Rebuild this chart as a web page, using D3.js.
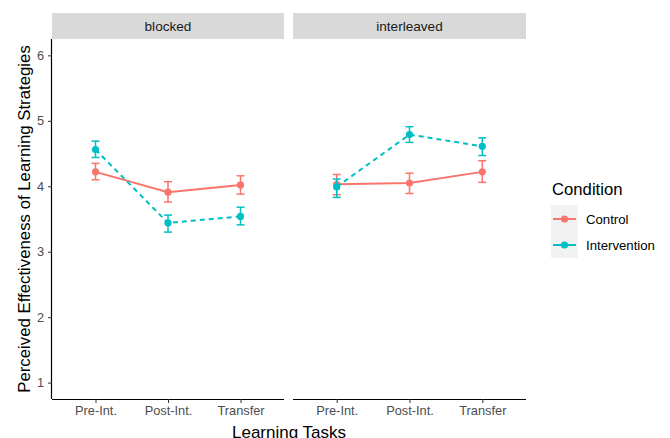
<!DOCTYPE html>
<html>
<head>
<meta charset="UTF-8">
<title>Perceived Effectiveness</title>
<script src="https://cdn.jsdelivr.net/npm/d3@7"></script>
<style>
    body{margin:0;background:#fff;}
    text{font-family:"Liberation Sans",Arial,sans-serif;}
</style>
</head>
<body>
<script>
    // data
    var tasks = ["Pre-Int.", "Post-Int.", "Transfer"];
    var facets = ["blocked", "interleaved"];
    var conditions = ["Control", "Intervention"];
    var colors = ["#F8766D", "#00BFC4"];
    var yTicks = [1, 2, 3, 4, 5, 6];

    // mean, low, high per task
    var blockedControl      = [[4.22, 4.10, 4.35], [3.91, 3.76, 4.07], [4.02, 3.88, 4.16]];
    var blockedIntervention = [[4.56, 4.44, 4.69], [3.44, 3.30, 3.56], [3.54, 3.41, 3.68]];
    var interControl        = [[4.03, 3.87, 4.18], [4.05, 3.89, 4.20], [4.22, 4.06, 4.39]];
    var interIntervention   = [[3.99, 3.83, 4.11], [4.79, 4.67, 4.91], [4.61, 4.47, 4.74]];

    var series = {
        blocked: [blockedControl, blockedIntervention],
        interleaved: [interControl, interIntervention]
    };

    var W = 670, H = 438;
    var plotTop = 39, plotBottom = 399;
    var panels = [{x0: 52, x1: 284}, {x0: 293, x1: 526}];

    var svg = d3.select("body").append("svg")
        .attr("width", W).attr("height", H);

    var y = d3.scaleLinear().domain([0.75, 6.25]).range([plotBottom, plotTop]);

    facets.forEach(function(f, fi){
        var p = panels[fi];
        // discrete expansion of 0.6 on each side: range spans 0.4..3.6
        var step = (p.x1 - p.x0) / 3.2;
        var x = d3.scalePoint().domain(tasks).range([p.x0 + step * 0.6, p.x1 - step * 0.6]);

        var g = svg.append("g");

        // strip
        g.append("rect").attr("x", p.x0).attr("y", 13)
            .attr("width", p.x1 - p.x0).attr("height", plotTop - 13)
            .attr("fill", "#D9D9D9");
        g.append("text").attr("x", (p.x0 + p.x1) / 2).attr("y", 26.5)
            .attr("dy", "0.35em").attr("text-anchor", "middle")
            .attr("font-size", 13.6).attr("fill", "#1A1A1A").text(f);

        // x axis
        var xa = g.append("g").attr("transform", "translate(0," + plotBottom + ")")
            .call(d3.axisBottom(x).tickSize(4).tickPadding(3));
        xa.select(".domain").attr("d", "M" + p.x0 + ",0.5H" + p.x1).attr("stroke", "#000").attr("stroke-width", 1.2);
        xa.selectAll(".tick line").attr("stroke", "#333");
        xa.selectAll(".tick text").attr("font-size", 12.8).attr("fill", "#4D4D4D")
            .style("font-family", "Liberation Sans, Arial, sans-serif");

        if (fi === 0) {
            var ya = g.append("g").attr("transform", "translate(" + p.x0 + ",0)")
                .call(d3.axisLeft(y).tickValues(yTicks).tickFormat(d3.format("d")).tickSize(4).tickPadding(4));
            ya.select(".domain").attr("d", "M-0.5," + plotTop + "V" + plotBottom).attr("stroke", "#000").attr("stroke-width", 1.2);
            ya.selectAll(".tick line").attr("stroke", "#333");
            ya.selectAll(".tick text").attr("font-size", 12.8).attr("fill", "#4D4D4D")
                .style("font-family", "Liberation Sans, Arial, sans-serif");
        }

        series[f].forEach(function(s, ci){
            var col = colors[ci];
            var line = d3.line().x(function(d, i){ return x(tasks[i]); }).y(function(d){ return y(d[0]); });
            g.append("path").datum(s).attr("d", line)
                .attr("fill", "none").attr("stroke", col).attr("stroke-width", 2)
                .attr("stroke-dasharray", ci === 1 ? "5,4" : null);

            var eb = g.selectAll(null).data(s).enter().append("g")
                .attr("stroke", col).attr("stroke-width", 1.5);
            eb.append("line")
                .attr("x1", function(d, i){ return x(tasks[i]); })
                .attr("x2", function(d, i){ return x(tasks[i]); })
                .attr("y1", function(d){ return y(d[1]); })
                .attr("y2", function(d){ return y(d[2]); });
            eb.append("line")
                .attr("x1", function(d, i){ return x(tasks[i]) - 4; })
                .attr("x2", function(d, i){ return x(tasks[i]) + 4; })
                .attr("y1", function(d){ return y(d[1]); })
                .attr("y2", function(d){ return y(d[1]); });
            eb.append("line")
                .attr("x1", function(d, i){ return x(tasks[i]) - 4; })
                .attr("x2", function(d, i){ return x(tasks[i]) + 4; })
                .attr("y1", function(d){ return y(d[2]); })
                .attr("y2", function(d){ return y(d[2]); });

            g.selectAll(null).data(s).enter().append("circle")
                .attr("cx", function(d, i){ return x(tasks[i]); })
                .attr("cy", function(d){ return y(d[0]); })
                .attr("r", 3.6).attr("fill", col);
        });
    });

    // axis titles
    svg.append("text").attr("x", 289).attr("y", 432)
        .attr("dy", "0.35em").attr("text-anchor", "middle")
        .attr("font-size", 17).attr("fill", "#000").text("Learning Tasks");
    svg.append("text")
        .attr("transform", "translate(24," + (plotTop + plotBottom) / 2 + ") rotate(-90)")
        .attr("dy", "0.35em").attr("text-anchor", "middle")
        .attr("font-size", 16.8).attr("fill", "#000")
        .text("Perceived Effectiveness of Learning Strategies");

    // legend
    var lg = svg.append("g");
    lg.append("text").attr("x", 552).attr("y", 189).attr("dy", "0.35em")
        .attr("font-size", 16.7).attr("fill", "#000").text("Condition");
    lg.append("rect").attr("x", 551).attr("y", 205).attr("width", 27).attr("height", 53)
        .attr("fill", "#F2F2F2");
    conditions.forEach(function(c, i){
        var cy = 219 + i * 26;
        lg.append("line").attr("x1", 553).attr("x2", 576).attr("y1", cy).attr("y2", cy)
            .attr("stroke", colors[i]).attr("stroke-width", 2);
        lg.append("circle").attr("cx", 564.5).attr("cy", cy).attr("r", 3.6).attr("fill", colors[i]);
        lg.append("text").attr("x", 586).attr("y", cy).attr("dy", "0.35em")
            .attr("font-size", 13.2).attr("fill", "#000").text(c);
    });
</script>
</body>
</html>
